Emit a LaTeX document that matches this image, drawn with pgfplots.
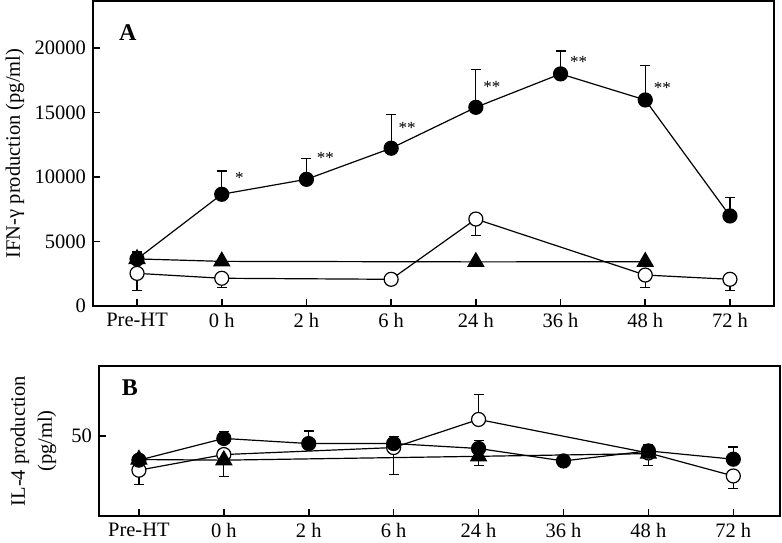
\documentclass[border=0pt]{standalone}
\usepackage{fontspec}
\setmainfont{Liberation Serif}
\usepackage{pgfplots}
\pgfplotsset{compat=1.18}

\newcommand{\fs}{\fontsize{20.5bp}{24bp}\selectfont}

\pgfplotsset{
  panel/.style={
    scale only axis, width=681bp,
    xtick={0,...,7},
    xticklabels={Pre-HT,0 h,2 h,6 h,24 h,36 h,48 h,72 h},
    tick pos=left, tick align=inside, major tick length=7bp,
    every tick/.append style={line width=1.6bp, black},
    axis line style={line width=1.6bp},
    /pgf/number format/assume math mode=true,
    /pgf/number format/1000 sep={},
    scaled y ticks=false,
    tick label style={font=\fs},
    label style={font=\fs},
    clip=false,
  },
  ebar/.style={draw=none, mark=none, forget plot,
    error bars/.cd, y dir=#1, y explicit, error mark=-,
    error mark options={rotate=90, mark size=5bp, line width=1.2bp, black},
    error bar style={line width=1.2bp, black}},
  fc/.style={black, line width=1.2bp, mark=*, mark size=7bp, mark options={fill=black}},
  oc/.style={black, line width=1.2bp, mark=*, mark size=7bp, mark options={fill=white}},
  tri/.style={black, line width=1.2bp, mark=triangle*, mark size=9bp, mark options={fill=black}},
}
\tikzset{star/.style={anchor=west, inner sep=0pt, font=\fontsize{17bp}{20bp}\selectfont},
  plab/.style={font=\fontsize{24bp}{28bp}\selectfont\bfseries}}

\begin{document}
\fs
\begin{tikzpicture}
\useasboundingbox (0,0) rectangle (782bp,-543bp);

% panel A
\begin{axis}[panel, at={(93bp,-1bp)}, anchor=north west, height=305bp,
  xmin=-0.52, xmax=7.52, ymin=0, ymax=23640,
  ytick={0,5000,10000,15000,20000},
  ylabel={IFN-γ production (pg/ml)},
  every axis y label/.style={at={(rel axis cs:0,0.5)}, xshift=-78bp, rotate=90, anchor=center}]
\addplot[ebar=plus] coordinates {
  (0,3640) +- (0,550) (1,8660) +- (0,1800) (2,9820) +- (0,1630) (3,12230) +- (0,2630)
  (4,15400) +- (0,2900) (5,17990) +- (0,1780) (6,15970) +- (0,2660) (7,6980) +- (0,1420)};
\addplot[ebar=minus] coordinates {
  (0,2530) +- (0,1350) (1,2150) +- (0,700) (4,6740) +- (0,1290)
  (6,2400) +- (0,950) (7,2070) +- (0,880)};
\addplot[tri] coordinates {(0,3650) (1,3460) (4,3420) (6,3430)};
\addplot[oc] coordinates {(0,2530) (1,2150) (3,2070) (4,6740) (6,2400) (7,2070)};
\addplot[fc] coordinates {(0,3640) (1,8660) (2,9820) (3,12230) (4,15400) (5,17990) (6,15970) (7,6980)};
\node[star] at (axis cs:1.157,9922) {*};
\node[star] at (axis cs:2.12,11496) {**};
\node[star] at (axis cs:3.085,13822) {**};
\node[star] at (axis cs:4.085,16977) {**};
\node[star] at (axis cs:5.11,18891) {**};
\node[star] at (axis cs:6.10,16922) {**};
\node[plab] at (rel axis cs:0.051,0.898) {A};
\end{axis}

% panel B
\begin{axis}[panel, at={(99bp,-366bp)}, anchor=north west, height=150bp,
  xmin=-0.47, xmax=7.55, ymin=0, ymax=94,
  ytick={50},
  ylabel={IL-4 production\\(pg/ml)},
  every axis y label/.style={at={(rel axis cs:0,0.5)}, xshift=-65.5bp, rotate=90, anchor=center, align=center},
  ylabel style={font=\fontsize{20.5bp}{27bp}\selectfont}]
\addplot[ebar=plus] coordinates {
  (1,48.6) +- (0,4.5) (2,45.4) +- (0,7.9) (3,45.4) +- (0,4.2) (4,42.3) +- (0,5.2)
  (6,40.8) +- (0,4.2) (7,35.6) +- (0,7.7)};
\addplot[ebar=plus] coordinates {(4,60.5) +- (0,15.7)};
\addplot[ebar=minus] coordinates {
  (0,28.7) +- (0,8.8) (3,42.9) +- (0,16.9) (7,25.1) +- (0,7.9)
  (1,35) +- (0,10.1) (4,37.4) +- (0,6) (6,39.1) +- (0,7.3)};
\addplot[oc] coordinates {(0,28.7) (1,38.5) (3,42.9) (4,60.5) (6,39.5) (7,25.1)};
\addplot[tri] coordinates {(0,35.4) (1,35) (4,37.4) (6,39.1)};
\addplot[fc] coordinates {(0,35) (1,48.6) (2,45.4) (3,45.4) (4,42.3) (5,34.5) (6,40.8) (7,35.6)};
\node[plab] at (rel axis cs:0.0455,0.853) {B};
\end{axis}
\end{tikzpicture}
\end{document}
